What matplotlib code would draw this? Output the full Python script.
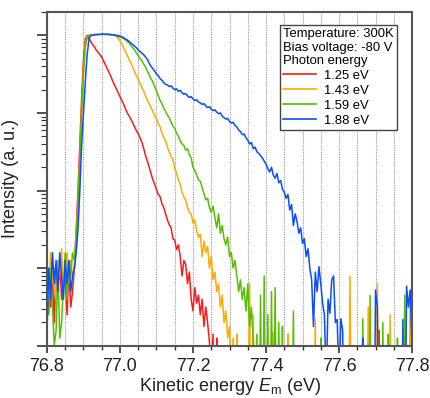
import numpy as np
import matplotlib
matplotlib.use('Agg')
import matplotlib.pyplot as plt
from matplotlib.ticker import MultipleLocator, LogLocator, NullFormatter

plt.rcParams['font.family'] = ['Liberation Sans', 'DejaVu Sans']
plt.rcParams['mathtext.fontset'] = 'custom'
plt.rcParams['mathtext.rm'] = 'Liberation Sans'
plt.rcParams['mathtext.it'] = 'Liberation Sans:italic'

# kinetic energy grid (eV), 5 meV steps from 76.800 to 77.800
energy = np.round(76.8 + 0.005 * np.arange(201), 3)

# log10 of normalised intensity (-6 = no counts, below axis)
log_125 = [
    -3.2, -3.0, -3.5, -3.1, -3.7, -3.0, -3.3, -2.9, -3.4, -3.2,
    -3.1, -3.6, -3.0, -3.5, -3.3, -3.0, -2.5, -2.0, -1.4, -0.8,
    -0.3, -0.05, 0.0, -0.04, -0.08, -0.12, -0.15, -0.19, -0.22, -0.25,
    -0.28, -0.33, -0.38, -0.43, -0.48, -0.53, -0.59, -0.64, -0.69, -0.74,
    -0.79, -0.84, -0.89, -0.95, -1.00, -1.04, -1.08, -1.13, -1.18, -1.23,
    -1.27, -1.32, -1.38, -1.46, -1.55, -1.62, -1.70, -1.78, -1.86, -1.92,
    -1.99, -2.05, -2.08, -2.17, -2.22, -2.30, -2.38, -2.44, -2.48, -2.62,
    -2.64, -2.76, -2.70, -2.85, -3.10, -2.90, -2.95, -3.20, -3.05, -3.40,
    -3.55, -3.25, -3.45, -3.35, -3.60, -3.40, -3.75, -3.50, -3.70, -3.95,
    -4.5, -3.85, -6, -3.9, -6, -6, -6, -6, -6, -6,
    -6, -6, -6, -6, -6, -6, -6, -6, -6, -6,
    -6, -6, -6, -6, -6, -6, -6, -6, -6, -6,
    -6, -6, -6, -6, -6, -6, -6, -6, -6, -6,
    -6, -6, -6, -6, -6, -6, -6, -6, -6, -6,
    -6, -6, -6, -6, -6, -6, -6, -6, -6, -6,
    -6, -6, -6, -6, -6, -6, -6, -6, -6, -6,
    -6, -6, -6, -6, -6, -6, -6, -6, -6, -6,
    -6, -6, -6, -6, -6, -6, -6, -6, -6, -6,
    -6, -6, -3.8, -6, -6, -6, -6, -6, -6, -6,
    -6, -6, -6, -6, -6, -6, -6, -6, -6, -6,
    -6,
]

log_143 = [
    -3.0, -3.3, -2.8, -3.2, -3.0, -3.4, -2.9, -3.1, -2.75, -3.3,
    -3.0, -2.8, -3.2, -2.9, -3.1, -3.0, -2.6, -2.2, -1.6, -1.0,
    -0.45, -0.12, -0.02, 0.0, 0.0, 0.005, 0.01, 0.01, 0.01, 0.012,
    0.012, 0.012, 0.012, 0.01, 0.01, 0.008, 0.005, 0.0, -0.01, -0.04,
    -0.07, -0.11, -0.16, -0.21, -0.26, -0.31, -0.36, -0.41, -0.47, -0.52,
    -0.57, -0.62, -0.67, -0.72, -0.78, -0.84, -0.88, -0.93, -0.98, -1.04,
    -1.08, -1.14, -1.18, -1.26, -1.32, -1.36, -1.44, -1.50, -1.56, -1.60,
    -1.72, -1.78, -1.86, -1.92, -2.02, -2.08, -2.12, -2.22, -2.28, -2.30,
    -2.42, -2.38, -2.52, -2.60, -2.56, -2.85, -2.65, -2.80, -2.72, -3.00,
    -2.85, -3.15, -3.05, -3.30, -3.20, -3.50, -3.35, -3.70, -3.55, -3.90,
    -3.75, -4.5, -3.9, -6, -3.85, -6, -6, -6, -6, -6,
    -6, -3.2, -6, -3.6, -6, -6, -6, -6, -6, -6,
    -6, -6, -6, -6, -3.83, -6, -6, -6, -6, -6,
    -6, -6, -3.85, -6, -6, -6, -6, -6, -6, -6,
    -6, -6, -6, -6, -6, -6, -6, -3.65, -6, -6,
    -6, -6, -6, -6, -6, -6, -6, -6, -6, -6,
    -6, -6, -6, -6, -6, -6, -3.1, -6, -6, -6,
    -6, -6, -6, -6, -6, -6, -3.5, -6, -6, -6,
    -6, -3.2, -6, -6, -6, -6, -6, -6, -3.6, -6,
    -6, -6, -6, -6, -6, -6, -6, -6, -6, -3.3,
    -6,
]

log_159 = [
    -3.3, -3.6, -3.0, -3.5, -4.0, -3.8, -3.0, -3.9, -3.7, -3.2,
    -2.8, -3.4, -2.9, -3.1, -2.8, -2.9, -2.6, -2.2, -1.6, -1.0,
    -0.5, -0.15, -0.03, 0.0, 0.0, 0.005, 0.01, 0.01, 0.012, 0.012,
    0.015, 0.015, 0.012, 0.012, 0.01, 0.008, 0.005, 0.0, -0.01, -0.02,
    -0.02, -0.03, -0.04, -0.06, -0.08, -0.10, -0.13, -0.16, -0.19, -0.23,
    -0.26, -0.30, -0.33, -0.37, -0.41, -0.46, -0.51, -0.56, -0.60, -0.66,
    -0.72, -0.78, -0.84, -0.88, -0.94, -0.98, -1.03, -1.06, -1.12, -1.17,
    -1.20, -1.26, -1.30, -1.36, -1.40, -1.42, -1.48, -1.46, -1.54, -1.58,
    -1.70, -1.74, -1.80, -1.86, -1.88, -1.96, -2.04, -2.12, -2.10, -2.22,
    -2.28, -2.20, -2.35, -2.48, -2.30, -2.55, -2.45, -2.62, -2.70, -2.60,
    -2.85, -2.80, -3.00, -2.90, -3.10, -3.30, -3.15, -3.40, -3.25, -3.55,
    -3.20, -3.75, -3.50, -3.95, -4.5, -3.85, -6, -3.35, -6, -3.10,
    -6, -3.6, -6, -3.3, -6, -3.25, -6, -3.7, -6, -3.75,
    -6, -6, -6, -6, -6, -3.55, -6, -6, -6, -6,
    -6, -6, -6, -6, -6, -6, -6, -6, -6, -6,
    -3.9, -6, -6, -6, -6, -6, -6, -6, -6, -6,
    -6, -6, -6, -6, -6, -6, -6, -6, -6, -6,
    -6, -6, -6, -3.65, -6, -6, -6, -3.35, -6, -6,
    -6, -6, -6, -6, -3.7, -6, -6, -3.85, -6, -6,
    -6, -6, -3.9, -6, -6, -6, -3.35, -6, -6, -6,
    -6,
]

log_188 = [
    -3.8, -3.0, -3.4, -2.8, -3.2, -2.9, -3.3, -2.8, -3.1, -3.4,
    -2.9, -3.2, -2.9, -3.3, -3.1, -3.0, -2.8, -2.5, -2.0, -1.4,
    -1.0, -0.6, -0.25, -0.05, 0.0, 0.0, 0.005, 0.01, 0.01, 0.012,
    0.012, 0.015, 0.012, 0.015, 0.012, 0.01, 0.008, 0.005, 0.0, -0.005,
    -0.01, -0.02, -0.03, -0.05, -0.06, -0.08, -0.10, -0.12, -0.14, -0.16,
    -0.19, -0.21, -0.23, -0.25, -0.28, -0.31, -0.36, -0.40, -0.43, -0.46,
    -0.50, -0.52, -0.56, -0.58, -0.61, -0.63, -0.64, -0.66, -0.65, -0.68,
    -0.70, -0.69, -0.72, -0.71, -0.74, -0.76, -0.75, -0.78, -0.80, -0.79,
    -0.82, -0.84, -0.83, -0.86, -0.87, -0.89, -0.88, -0.91, -0.93, -0.92,
    -0.95, -0.97, -0.96, -0.99, -1.01, -1.00, -1.04, -1.06, -1.08, -1.07,
    -1.11, -1.13, -1.12, -1.16, -1.18, -1.22, -1.24, -1.28, -1.27, -1.32,
    -1.35, -1.40, -1.38, -1.46, -1.44, -1.50, -1.52, -1.55, -1.58, -1.62,
    -1.66, -1.72, -1.76, -1.70, -1.80, -1.84, -1.78, -1.90, -1.87, -1.98,
    -2.02, -2.10, -2.05, -2.25, -2.18, -2.45, -2.30, -2.40, -2.55, -2.48,
    -2.68, -2.62, -2.85, -2.75, -3.00, -3.15, -3.75, -3.05, -3.30, -2.98,
    -3.20, -3.45, -3.60, -4.5, -3.40, -3.58, -3.15, -3.10, -3.70, -3.66,
    -4.5, -3.65, -3.80, -6, -6, -6, -6, -6, -6, -6,
    -6, -6, -6, -3.9, -6, -6, -6, -6, -6, -6,
    -3.28, -3.5, -6, -6, -6, -6, -6, -6, -6, -6,
    -6, -6, -6, -6, -6, -3.66, -6, -3.23, -3.5, -3.28,
    -4.0,
]

photon_labels = ['1.25 eV', '1.43 eV', '1.59 eV', '1.88 eV']
colors = ['#ff1a1a', '#ffaa00', '#55c000', '#0a4cff']

fig = plt.figure(figsize=(4.31, 3.98), dpi=100)
ax = fig.add_axes([0.109, 0.131, 0.847, 0.839])

for logs, lab, c in zip([log_125, log_143, log_159, log_188], photon_labels, colors):
    ax.plot(energy, 10.0 ** np.array(logs), color=c, lw=1.1, label=lab)

ax.set_yscale('log')
ax.set_xlim(76.8, 77.8)
ax.set_ylim(1e-4, 2)

ax.xaxis.set_major_locator(MultipleLocator(0.2))
ax.xaxis.set_minor_locator(MultipleLocator(0.05))
ax.yaxis.set_major_locator(LogLocator(base=10, numticks=10))
ax.yaxis.set_minor_locator(LogLocator(base=10, subs=np.arange(2, 10), numticks=20))
ax.yaxis.set_major_formatter(NullFormatter())
ax.yaxis.set_minor_formatter(NullFormatter())

ax.grid(True, axis='x', which='both', color='#999999', ls=(0, (1, 1)), lw=0.8)
ax.tick_params(axis='x', which='major', direction='out', length=5, width=1.2,
               labelsize=13, colors='#333333', labelcolor='#222222')
ax.tick_params(axis='x', which='minor', direction='out', length=3, width=1.0, colors='#333333')
ax.tick_params(axis='y', which='major', direction='out', length=7, width=1.2, colors='#333333')
ax.tick_params(axis='y', which='minor', direction='out', length=4, width=0.8, colors='#333333')
for sp in ax.spines.values():
    sp.set_color('#555555')
    sp.set_linewidth(1.5)

ax.set_xlabel(r'Kinetic energy $E_\mathrm{m}$ (eV)', fontsize=13, labelpad=1, color='#222222')
ax.set_ylabel('Intensity (a. u.)', fontsize=13, labelpad=10, color='#222222')

leg = ax.legend(loc='upper right', bbox_to_anchor=(0.96, 0.961), fontsize=9.4,
                title='Temperature: 300K\nBias voltage: -80 V\nPhoton energy',
                title_fontsize=9.4, alignment='left', frameon=True, fancybox=False,
                edgecolor='#444444', framealpha=1, borderpad=0.25,
                labelspacing=0.22, handlelength=2.5, handletextpad=0.6,
                borderaxespad=0)
leg.get_title().set_linespacing(1.15)
leg.get_frame().set_linewidth(1.0)
for line in leg.get_lines():
    line.set_linewidth(1.2)

fig.savefig('out.png', dpi=100)
